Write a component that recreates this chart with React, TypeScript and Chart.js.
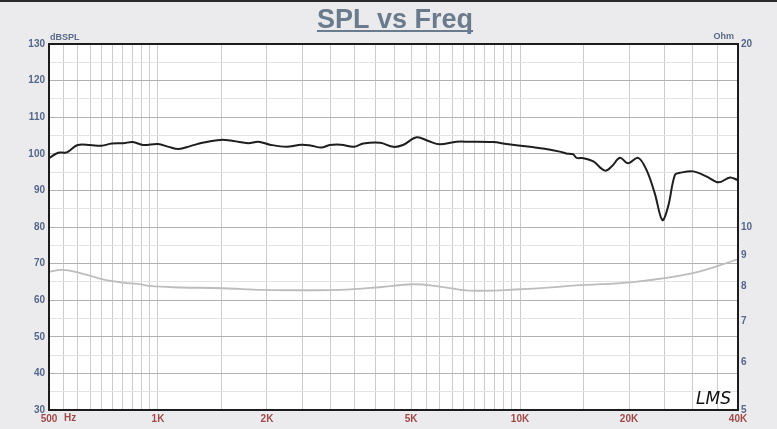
import { useEffect, useRef } from 'react';
import { Chart, registerables } from 'chart.js';

Chart.register(...registerables);

// SPL curve (dB SPL, left axis)
const splFreq = [500, 530, 553, 565, 600, 649, 698, 745, 802, 852, 910, 1000, 1070, 1140, 1228, 1337, 1489, 1616, 1775, 1893, 2037, 2264, 2493, 2655, 2831, 2980, 3200, 3476, 3693, 4109, 4467, 4750, 5180, 5580, 6000, 6665, 7260, 8420, 9180, 10660, 11700, 12870, 13420, 14000, 14330, 14950, 15940, 17160, 17900, 18870, 19880, 21200, 22350, 23560, 24720, 25630, 26770, 27650, 30100, 32900, 35320, 38000, 40000];
const splDb = [98.8, 100.3, 100.3, 100.6, 102.4, 102.4, 102.2, 102.8, 102.9, 103.2, 102.4, 102.7, 101.9, 101.3, 102.1, 103.1, 103.8, 103.5, 102.9, 103.3, 102.5, 101.9, 102.5, 102.2, 101.7, 102.4, 102.5, 101.9, 102.8, 103.0, 101.9, 102.4, 104.5, 103.5, 102.6, 103.3, 103.3, 103.2, 102.7, 101.9, 101.4, 100.6, 100.1, 99.9, 98.9, 98.8, 97.9, 95.4, 96.5, 98.9, 97.4, 98.9, 95.6, 89.2, 81.9, 85.5, 94.2, 94.8, 95.2, 93.7, 92.2, 93.5, 92.8];

// Impedance curve (Ohm, right axis)
const impFreq = [500, 543, 600, 700, 800, 880, 950, 1105, 1513, 1948, 2564, 3172, 4090, 5060, 6000, 7200, 10000, 15100, 20100, 29800, 40000];
const impOhm = [8.44, 8.50, 8.42, 8.21, 8.10, 8.06, 8.00, 7.96, 7.93, 7.88, 7.87, 7.88, 7.96, 8.05, 7.98, 7.86, 7.90, 8.03, 8.11, 8.39, 8.85];

// Axis ticks
const xGridFreqs = [500, 550, 600, 650, 700, 750, 800, 850, 900, 950, 1000, 1500, 2000, 2500, 3000, 3500, 4000, 4500, 5000, 5500, 6000, 6500, 7000, 7500, 8000, 8500, 9000, 9500, 10000, 15000, 20000, 25000, 30000, 35000, 40000];
const xLabelValues = [500, 1000, 2000, 5000, 10000, 20000, 40000];
const xLabelTexts = ['500', '1K', '2K', '5K', '10K', '20K', '40K'];
const ohmTicks = [5, 6, 7, 8, 9, 10, 20];

const TITLE = 'SPL vs Freq';

const decoPlugin = {
  id: 'deco',
  beforeDraw(chart: any) {
    const { ctx, chartArea: a } = chart;
    ctx.save();
    ctx.fillStyle = '#ffffff';
    ctx.fillRect(a.left, a.top, a.right - a.left, a.bottom - a.top);
    ctx.restore();
  },
  afterDraw(chart: any) {
    const { ctx, chartArea: a, width } = chart;
    ctx.save();
    // frame
    ctx.strokeStyle = '#1c1c1c';
    ctx.lineWidth = 2;
    ctx.strokeRect(a.left, a.top, a.right - a.left, a.bottom - a.top);
    // top bar
    ctx.fillStyle = '#2a2a2a';
    ctx.fillRect(0, 0, width, 2);
    // title
    ctx.fillStyle = '#6b7b8e';
    ctx.font = 'bold 27px "Liberation Sans", Arial, sans-serif';
    ctx.textAlign = 'center';
    ctx.textBaseline = 'alphabetic';
    const cx = 395;
    ctx.fillText(TITLE, cx, 28);
    const w = ctx.measureText(TITLE).width;
    ctx.fillRect(cx - w / 2, 30, w, 2);
    // axis unit labels
    ctx.font = 'bold 9px "Liberation Sans", Arial, sans-serif';
    ctx.fillStyle = '#5a6a88';
    ctx.textAlign = 'left';
    ctx.textBaseline = 'middle';
    ctx.fillText('dBSPL', a.left + 1, 38);
    ctx.textAlign = 'right';
    ctx.fillText('Ohm', a.right - 4, 37);
    // Hz after 500
    const xs = chart.scales.x;
    ctx.font = 'bold 10px "Liberation Sans", Arial, sans-serif';
    ctx.fillStyle = '#a04a4a';
    ctx.textAlign = 'left';
    ctx.fillText('Hz', xs.getPixelForValue(xLabelValues[0]) + 15, 418);
    // LMS mark
    ctx.fillStyle = '#111';
    ctx.font = 'italic 17px "DejaVu Sans", sans-serif';
    ctx.textAlign = 'left';
    ctx.textBaseline = 'alphabetic';
    ctx.fillText('LMS', 696, 404);
    ctx.restore();
  },
};

export default function App() {
  const ref = useRef<HTMLCanvasElement | null>(null);
  useEffect(() => {
    if (!ref.current) return;
    const chart = new Chart(ref.current, {
      type: 'line',
      data: {
        datasets: [
          {
            label: 'SPL',
            data: splFreq.map((f, i) => ({ x: f, y: splDb[i] })),
            borderColor: '#1e1e1e',
            borderWidth: 2,
            pointRadius: 0,
            tension: 0.35,
            yAxisID: 'y',
          },
          {
            label: 'Impedance',
            data: impFreq.map((f, i) => ({ x: f, y: impOhm[i] })),
            borderColor: '#bdbdbd',
            borderWidth: 1.8,
            pointRadius: 0,
            tension: 0.4,
            yAxisID: 'y2',
          },
        ],
      },
      options: {
        animation: false,
        responsive: true,
        maintainAspectRatio: false,
        layout: { padding: { top: 44, left: 0, right: 0, bottom: 0 } },
        plugins: { legend: { display: false }, tooltip: { enabled: false }, title: { display: false } },
        scales: {
          x: {
            type: 'logarithmic',
            min: 500,
            max: 40000,
            afterBuildTicks: (s: any) => {
              s.ticks = xGridFreqs.map((v) => ({ value: v }));
            },
            afterFit: (s: any) => {
              s.height = 19;
            },
            border: { display: false },
            grid: { color: '#cbcbcb', lineWidth: 1, drawTicks: false },
            ticks: {
              autoSkip: false,
              maxRotation: 0,
              padding: 3,
              color: '#a04a4a',
              font: { family: '"Liberation Sans", Arial, sans-serif', size: 10, weight: 'bold' },
              callback: (v: any) => {
                const i = xLabelValues.indexOf(Number(v));
                return i >= 0 ? xLabelTexts[i] : '';
              },
            },
          },
          y: {
            type: 'linear',
            position: 'left',
            min: 30,
            max: 130,
            afterFit: (s: any) => {
              s.width = 49;
            },
            border: { display: false },
            grid: {
              drawTicks: false,
              color: (c: any) => (c.tick && c.tick.value % 10 === 0 ? '#b2b2b2' : '#e3e3e3'),
              lineWidth: 1,
            },
            ticks: {
              stepSize: 5,
              padding: 4,
              color: '#55678c',
              font: { family: '"Liberation Sans", Arial, sans-serif', size: 10, weight: 'bold' },
              callback: (v: any) => (Number(v) % 10 === 0 ? String(v) : ''),
            },
          },
          y2: {
            type: 'logarithmic',
            position: 'right',
            min: 5,
            max: 20,
            afterBuildTicks: (s: any) => {
              s.ticks = ohmTicks.map((v) => ({ value: v }));
            },
            afterFit: (s: any) => {
              s.width = 39;
            },
            border: { display: false },
            grid: { display: false, drawTicks: false },
            ticks: {
              padding: 3,
              color: '#55678c',
              font: { family: '"Liberation Sans", Arial, sans-serif', size: 10, weight: 'bold' },
              callback: (v: any) => String(v),
            },
          },
        },
      },
      plugins: [decoPlugin],
    } as any);
    return () => chart.destroy();
  }, []);

  return (
    <div style={{ position: 'absolute', left: 0, top: 0, width: 777, height: 429, background: '#ebebed' }}>
      <canvas ref={ref} />
    </div>
  );
}
